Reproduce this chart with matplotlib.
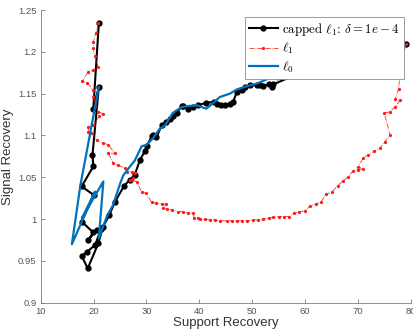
import matplotlib
matplotlib.use("Agg")
import matplotlib.pyplot as plt

plt.rcParams["mathtext.fontset"] = "cm"
plt.rcParams["font.family"] = ["Liberation Sans", "DejaVu Sans"]

# capped l1 path (support recovery, signal recovery)
capped_x = [21.0, 19.95, 21.0, 19.8, 19.95, 17.75, 20.0, 17.75, 19.95, 19.0,
            20.6, 21.4, 20.3, 18.8, 17.75, 18.9, 20.9, 21.8, 23.0, 24.0,
            25.8, 26.9, 27.8, 28.8, 29.7, 30.05, 31.0, 31.3, 31.9, 32.9,
            33.8, 34.5, 35.1, 35.7, 36.7, 37.0, 37.9, 38.9, 39.8, 41.2,
            42.7, 43.3, 44.2, 44.9, 45.8, 46.4, 47.1, 48.0, 48.7, 49.6,
            50.9, 51.5, 52.1, 53.1, 53.7, 54.0, 58.0, 60.2, 61.0, 63.0,
            66.0, 70.0, 74.0, 79.1]
capped_y = [1.234, 1.132, 1.158, 1.077, 1.063, 1.039, 1.029, 0.997, 0.984, 0.975,
            0.987, 0.988, 0.969, 0.961, 0.956, 0.941, 0.971, 0.991, 1.005, 1.020,
            1.040, 1.047, 1.053, 1.071, 1.081, 1.087, 1.099, 1.100, 1.098, 1.112,
            1.116, 1.120, 1.123, 1.127, 1.135, 1.135, 1.132, 1.134, 1.136, 1.139,
            1.140, 1.138, 1.136, 1.136, 1.138, 1.140, 1.152, 1.154, 1.158, 1.160,
            1.160, 1.160, 1.159, 1.161, 1.158, 1.161, 1.172, 1.177, 1.178, 1.183,
            1.189, 1.196, 1.202, 1.209]

# l1 path
l1_x = [20.9, 20.4, 19.95, 19.95, 20.2, 20.9, 19.95, 19.0, 17.9, 18.8,
        19.95, 19.95, 20.9, 21.85, 21.1, 19.95, 19.0, 19.0, 19.6, 20.6,
        21.85, 22.8, 24.06, 22.8, 23.7, 24.7, 25.9, 26.3, 27.2, 27.8,
        27.5, 26.9, 27.2, 28.2, 29.1, 29.9, 31.0, 31.9, 32.9, 33.7,
        33.1, 33.95, 34.9, 36.0, 37.0, 37.9, 38.9, 39.0, 39.8, 40.1,
        41.1, 42.0, 43.0, 43.9, 45.2, 46.1, 47.1, 48.0, 49.0, 50.2,
        51.2, 52.1, 53.1, 54.0, 55.0, 56.0, 57.0, 57.9, 58.9, 60.0,
        61.0, 62.0, 63.0, 64.0, 65.05, 66.2, 67.1, 68.1, 69.0, 70.0,
        71.0, 70.1, 71.0, 72.0, 73.0, 74.2, 75.1, 76.1, 75.0, 76.0,
        77.0, 78.0, 77.1, 77.7, 78.0, 77.2, 78.0, 79.1]
l1_y = [1.234, 1.222, 1.212, 1.204, 1.195, 1.182, 1.178, 1.176, 1.165, 1.163,
        1.154, 1.146, 1.128, 1.126, 1.123, 1.112, 1.110, 1.104, 1.1025, 1.0945,
        1.091, 1.0886, 1.0786, 1.079, 1.0667, 1.0647, 1.0607, 1.0567, 1.0567, 1.0547,
        1.0487, 1.0467, 1.0467, 1.0447, 1.032, 1.031, 1.020, 1.019, 1.018, 1.018,
        1.013, 1.012, 1.011, 1.009, 1.009, 1.007, 1.007, 1.001, 1.001, 1.000,
        0.9997, 0.999, 0.999, 0.998, 0.998, 0.998, 0.998, 0.998, 0.998, 0.999,
        0.999, 1.000, 1.001, 1.002, 1.003, 1.003, 1.003, 1.007, 1.009, 1.0097,
        1.016, 1.018, 1.020, 1.030, 1.032, 1.040, 1.045, 1.050, 1.057, 1.059,
        1.0595, 1.0626, 1.073, 1.077, 1.081, 1.085, 1.0925, 1.1005, 1.127, 1.128,
        1.134, 1.142, 1.143, 1.156, 1.174, 1.178, 1.180, 1.209]

# l0 path
l0_x = [21.0, 17.5, 15.9, 20.3, 17.8, 21.85, 21.0, 22.5, 23.7, 25.0,
        25.6, 26.9, 27.8, 29.1, 30.05, 31.3, 32.5, 33.5, 35.0, 36.7,
        37.6, 39.6, 41.3, 42.3, 43.9, 45.8, 47.1, 48.5, 50.9, 53.8,
        54.8, 57.8, 59.4, 61.0, 62.5, 64.0]
l0_y = [1.158, 1.040, 0.970, 1.033, 1.001, 1.045, 0.977, 1.003, 1.017, 1.042,
        1.052, 1.063, 1.070, 1.087, 1.089, 1.097, 1.108, 1.112, 1.127, 1.134,
        1.135, 1.136, 1.132, 1.137, 1.146, 1.150, 1.155, 1.158, 1.162, 1.170,
        1.167, 1.173, 1.174, 1.176, 1.182, 1.186]

x_ticks = [10, 20, 30, 40, 50, 60, 70, 80]
y_ticks = [0.9, 0.95, 1.0, 1.05, 1.1, 1.15, 1.2, 1.25]
y_tick_labels = ["0.9", "0.95", "1", "1.05", "1.1", "1.15", "1.2", "1.25"]

fig = plt.figure(figsize=(4.14, 3.35), dpi=100)
ax = fig.add_axes([0.0983, 0.0964, 0.8937, 0.8737])

ax.plot(capped_x, capped_y, color="black", lw=1.5, marker="o", ms=3.5,
        label=r"capped $\ell_1$: $\delta = 1e - 4$")
ax.plot(l1_x, l1_y, color="#ff1a1a", lw=0.55, ls="-.", marker=".", ms=2.6,
        label=r"$\ell_1$")
ax.plot(l0_x, l0_y, color="#0072BD", lw=1.6, label=r"$\ell_0$")

ax.set_xlim(10, 80)
ax.set_ylim(0.9, 1.25)
ax.set_xticks(x_ticks)
ax.set_yticks(y_ticks)
ax.set_yticklabels(y_tick_labels)

gray = "#555555"
for side in ("top", "right"):
    ax.spines[side].set_visible(False)
for side in ("left", "bottom"):
    ax.spines[side].set_color("#7f7f7f")
    ax.spines[side].set_linewidth(0.6)
ax.tick_params(direction="in", length=3, width=0.6, color="#7f7f7f",
               labelsize=6.8, labelcolor=gray, pad=3)

ax.set_xlabel("Support Recovery", fontsize=9.5, color="#333333", labelpad=1)
ax.set_ylabel("Signal Recovery", fontsize=9.5, color="#333333", labelpad=3)

leg = ax.legend(loc="upper right", bbox_to_anchor=(0.981, 0.976),
                prop={"family": "cmr10", "size": 9.3}, frameon=True,
                fancybox=False, framealpha=1, edgecolor="#8c8c8c",
                borderpad=0.3, labelspacing=0.25, handlelength=2.3,
                handletextpad=0.3, borderaxespad=0)
leg.get_frame().set_linewidth(0.6)

fig.savefig("out.png", dpi=100)
